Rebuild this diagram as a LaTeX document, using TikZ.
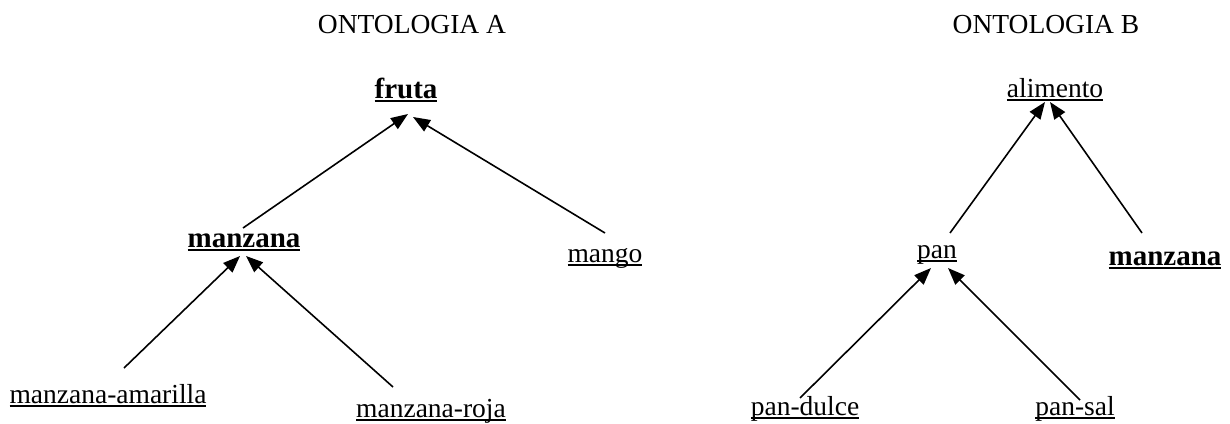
\documentclass[tikz,border=0pt]{standalone}
\usepackage{fontspec}
\setmainfont{Liberation Serif}
\usetikzlibrary{arrows.meta,calc}
\newsavebox{\ulbox}
\newcommand{\ulword}[1]{\sbox{\ulbox}{#1}\rlap{\rule[-1.8pt]{\wd\ulbox}{0.75pt}}\usebox{\ulbox}}
\tikzset{
	word/.style={inner sep=0pt, anchor=base, font=\fontsize{13.75}{16}\selectfont},
	key/.style={word, font=\fontsize{14.5}{17}\selectfont\bfseries},
	isa/.style={-{Triangle[length=8.5pt,width=6.5pt]}, line width=0.8pt}
}

\begin{document}
\begin{tikzpicture}[x=0.5pt, y=-0.5pt]
	\useasboundingbox (0,0) rectangle (1230,423);
	\node[word]	(titA) at (412,33) {ONTOLOGIA A};
	\node[word]	(titB) at (1046,33) {ONTOLOGIA B};

	% ontologia A
	\node[key]	(fruta) at (406,98) {\ulword{fruta}};
	\node[key]	(manzA) at (244,247) {\ulword{manzana}};
	\node[word]	(mango) at (605,262) {\ulword{mango}};
	\node[word]	(amarilla) at (108,403) {\ulword{manzana-amarilla}};
	\node[word]	(roja) at (431,417) {\ulword{manzana-roja}};
	\draw[isa] ($(manzA.base)+(-1,-19)$) -- ($(fruta.base)+(2,16)$);
	\draw[isa] ($(mango.base)+(0,-29)$) -- ($(fruta.base)+(7,19)$);
	\draw[isa] ($(amarilla.base)+(16,-35)$) -- ($(manzA.base)+(-4,9)$);
	\draw[isa] ($(roja.base)+(-38,-30)$) -- ($(manzA.base)+(2,9)$);

	% ontologia B
	\node[word]	(alimento) at (1055,97) {\ulword{alimento}};
	\node[word]	(pan) at (937,258) {\ulword{pan}};
	\node[key]	(manzB) at (1165,265) {\ulword{manzana}};
	\node[word]	(dulce) at (805,415) {\ulword{pan-dulce}};
	\node[word]	(sal) at (1075,415) {\ulword{pan-sal}};
	\draw[isa] ($(pan.base)+(13,-25)$) -- ($(alimento.base)+(-10,5)$);
	\draw[isa] ($(manzB.base)+(-23,-32)$) -- ($(alimento.base)+(-5,5)$);
	\draw[isa] ($(dulce.base)+(-5,-17)$) -- ($(pan.base)+(-6,10)$);
	\draw[isa] ($(sal.base)+(5,-15)$) -- ($(pan.base)+(11,10)$);
\end{tikzpicture}
\end{document}
